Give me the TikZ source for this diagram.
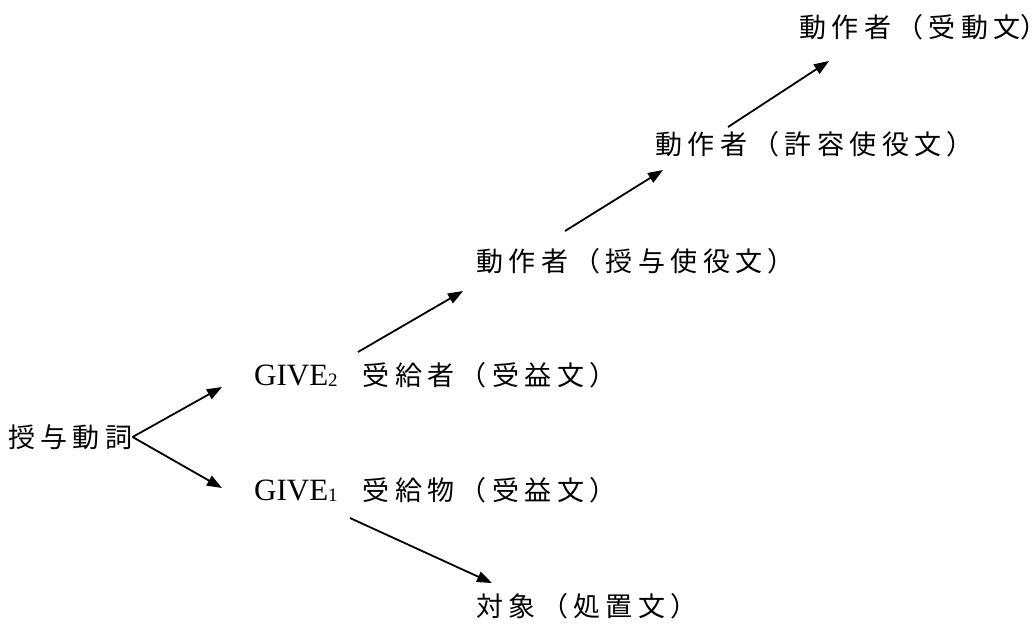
\documentclass[tikz,border=0pt]{standalone}
\usepackage{fontspec}
\setmainfont{Liberation Serif}
\newfontfamily\cjk[LetterSpace=20]{Noto Sans CJK JP}
\usetikzlibrary{arrows.meta}
\tikzset{
  lbl/.style={anchor=west, inner sep=0pt, font=\cjk\fontsize{27}{34}\selectfont},
  arr/.style={line width=1.8pt, -{Triangle[length=15pt,width=11pt]}},
}
\newcommand{\givesub}[1]{{\rmfamily\fontsize{31}{36}\selectfont GIVE\raisebox{-1pt}{\fontsize{19}{20}\selectfont #1}}\hspace*{25pt}}
\newcommand{\halfclose}{{\addfontfeature{RawFeature=+halt,LetterSpace=0}）}}
\begin{document}
\begin{tikzpicture}[x=1pt,y=-1pt]
\useasboundingbox (0,0) rectangle (1033,625);
\node[lbl] (v)   at (8,437)   {授与動詞};
\node[lbl] (g2)  at (254,375) {\givesub{2}{\cjk 受給者（受益文）}};
\node[lbl] (g1)  at (254,490) {\givesub{1}{\cjk 受給物（受益文）}};
\node[lbl] (obj) at (476,606) {対象（処置文）};
\node[lbl] (a1)  at (476,261) {動作者（授与使役文）};
\node[lbl] (a2)  at (655,144) {動作者（許容使役文）};
\node[lbl] (a3)  at (799,27)  {動作者（受動文\halfclose};
\coordinate (g2o) at (358,352);
\coordinate (a1i) at (463,291);
\coordinate (a1o) at (565,231);
\coordinate (a2i) at (663,170);
\coordinate (a2o) at (728,127);
\coordinate (a3i) at (829,61);
\coordinate (g1o) at (350,518);
\coordinate (obji) at (492,583);
\coordinate (g2i) at (222,387);
\coordinate (g1i) at (222,488);
\draw[arr] (v.east) -- (g2i);
\draw[arr] (v.east) -- (g1i);
\draw[arr] (g2o) -- (a1i);
\draw[arr] (a1o) -- (a2i);
\draw[arr] (a2o) -- (a3i);
\draw[arr] (g1o) -- (obji);
\end{tikzpicture}
\end{document}
